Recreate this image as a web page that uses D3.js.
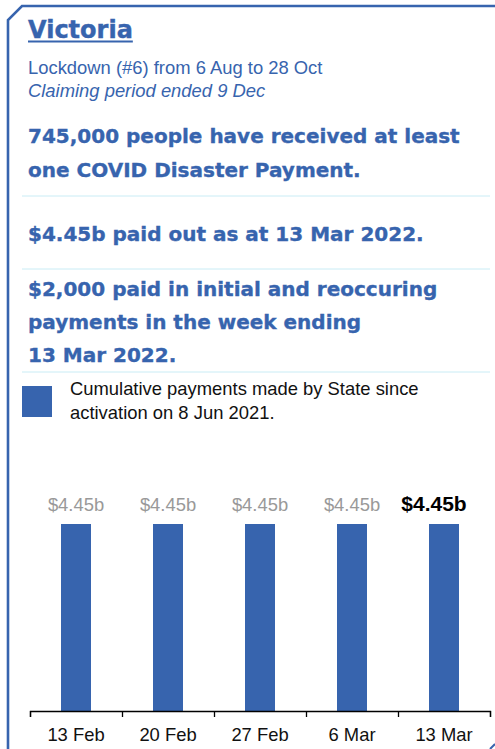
<!DOCTYPE html>
<html>
<head>
<meta charset="utf-8">
<script src="https://cdn.jsdelivr.net/npm/d3@7"></script>
<style>
  body { margin: 0; background: #fff; }
  svg { display: block; }
  text { font-family: "Liberation Sans", Arial, sans-serif; }
  .heavy { font-family: "DejaVu Sans", Verdana, sans-serif; font-weight: bold; }
</style>
</head>
<body>
<svg id="chart"></svg>
<script>
const WIDTH = 495;
const HEIGHT = 749;
const BLUE = "#3764ae";

// Datos.
const weeks = ["13 Feb", "20 Feb", "27 Feb", "6 Mar", "13 Mar"];
const paid_b = [4.45, 4.45, 4.45, 4.45, 4.45];
const title = "Victoria";
const subtitle = ["Lockdown (#6) from 6 Aug to 28 Oct", "Claiming period ended 9 Dec"];
const headline_people = ["745,000 people have received at least", "one COVID Disaster Payment."];
const headline_total = ["$4.45b paid out as at 13 Mar 2022."];
const headline_week = ["$2,000 paid in initial and reoccuring", "payments in the week ending", "13 Mar 2022."];
const legend_lines = ["Cumulative payments made by State since", "activation on 8 Jun 2021."];

const svg = d3.select("svg#chart")
  .attr("width", WIDTH)
  .attr("height", HEIGHT);

// Marco con esquina cortada.
svg.append("path")
  .attr("d", `M${WIDTH + 5},6 L22,6 L8,20 L8,${HEIGHT + 5}`)
  .attr("fill", "none")
  .attr("stroke", BLUE)
  .attr("stroke-width", 2.6);

svg.append("path")
  .attr("d", `M${WIDTH},${HEIGHT - 5} L${WIDTH - 5},${HEIGHT}`)
  .attr("stroke", BLUE)
  .attr("stroke-width", 2);

// Titulo.
const title_text = svg.append("text")
  .attr("class", "heavy")
  .attr("x", 28).attr("y", 38)
  .attr("fill", BLUE)
  .attr("stroke", BLUE)
  .attr("stroke-width", 0.4)
  .style("font-size", "24px")
  .text(title);

const tw = title_text.node().getComputedTextLength();
svg.append("rect")
  .attr("x", 28).attr("y", 40.5)
  .attr("width", tw).attr("height", 2)
  .attr("fill", BLUE);

svg.append("text")
  .attr("x", 28).attr("y", 74)
  .attr("fill", BLUE)
  .style("font-size", "18.4px")
  .text(subtitle[0]);

svg.append("text")
  .attr("x", 28).attr("y", 97)
  .attr("fill", BLUE)
  .style("font-size", "18.4px")
  .style("font-style", "italic")
  .text(subtitle[1]);

// Titulares.
const add_block = (lines, y0, dy) => {
  lines.forEach((l, i) => {
    svg.append("text")
      .attr("class", "heavy")
      .attr("x", 28).attr("y", y0 + i * dy)
      .attr("fill", BLUE)
      .attr("stroke", BLUE)
      .attr("stroke-width", 0.35)
      .style("font-size", "20px")
      .text(l);
  });
};

add_block(headline_people, 143, 34);
add_block(headline_total, 241, 34);
add_block(headline_week, 296, 33);

[196, 269, 372].forEach((y) => {
  svg.append("line")
    .attr("x1", 22).attr("x2", 490)
    .attr("y1", y).attr("y2", y)
    .attr("stroke", "#c9ecf5")
    .attr("stroke-width", 1);
});

// Leyenda.
svg.append("rect")
  .attr("x", 22).attr("y", 386)
  .attr("width", 30).attr("height", 31)
  .attr("fill", BLUE);

legend_lines.forEach((l, i) => {
  svg.append("text")
    .attr("x", 70).attr("y", 395 + i * 24)
    .attr("fill", "#111")
    .style("font-size", "18.4px")
    .text(l);
});

// Barras.
const x = d3.scaleBand()
  .domain(weeks)
  .range([30, 490])
  .padding(0);

const y = d3.scaleLinear()
  .domain([0, d3.max(paid_b)])
  .range([711, 524]);

const bar_w = x.bandwidth() * 0.326;
const last = weeks.length - 1;

svg.append("g")
  .selectAll("rect.bar")
  .data(weeks)
  .join("rect")
    .attr("class", "bar")
    .attr("x", (d) => x(d) + x.bandwidth() / 2 - bar_w / 2)
    .attr("y", (d, i) => y(paid_b[i]))
    .attr("width", bar_w)
    .attr("height", (d, i) => y(0) - y(paid_b[i]))
    .attr("fill", BLUE);

svg.append("g")
  .selectAll("text.val")
  .data(weeks)
  .join("text")
    .attr("class", "val")
    .attr("x", (d, i) => x(d) + x.bandwidth() / 2 - (i === last ? 10 : 0))
    .attr("y", (d, i) => y(paid_b[i]) - 13)
    .attr("text-anchor", "middle")
    .attr("fill", (d, i) => i === last ? "#000" : "#999")
    .style("font-size", (d, i) => i === last ? "21px" : "18.4px")
    .style("font-weight", (d, i) => i === last ? "bold" : "normal")
    .text((d, i) => `$${paid_b[i].toFixed(2)}b`);

// Eje con marcas en los limites de cada banda.
const edges = d3.scaleLinear().domain([0, weeks.length]).range(x.range());

svg.append("g")
  .attr("transform", `translate(0, ${y(0)})`)
  .call(d3.axisBottom(edges).ticks(weeks.length).tickSize(6).tickSizeOuter(6).tickFormat(""))
  .call((g) => g.selectAll("path, line").attr("stroke", "#000").attr("stroke-width", 1.3));

svg.append("g")
  .attr("transform", `translate(0, ${y(0)})`)
  .call(d3.axisBottom(x).tickSize(0).tickPadding(17))
  .call((g) => g.select(".domain").remove())
  .call((g) => g.selectAll("text")
    .attr("fill", "#111")
    .style("font-family", "'Liberation Sans', Arial, sans-serif")
    .style("font-size", "18.4px"));
</script>
</body>
</html>
